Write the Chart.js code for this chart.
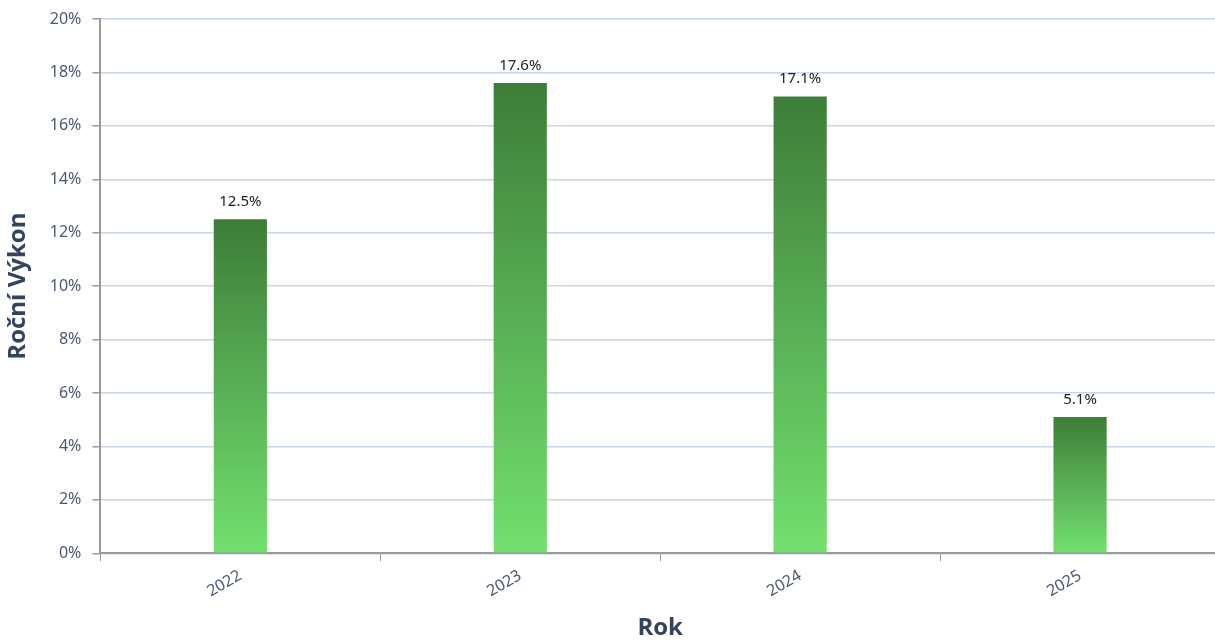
<!DOCTYPE html>
<html>
<head>
<meta charset="utf-8">
<script src="https://cdn.jsdelivr.net/npm/chart.js@4/dist/chart.umd.min.js"></script>
<style>
  html, body { margin: 0; padding: 0; background: #fff; overflow: hidden; }
  #wrap { width: 1220px; height: 643px; }
</style>
</head>
<body>
<div id="wrap"><canvas id="myChart"></canvas></div>
<script>
const years = ['2022', '2023', '2024', '2025'];
const returns = [12.5, 17.6, 17.1, 5.1];
const returnLabels = ['12.5%', '17.6%', '17.1%', '5.1%'];

const titleColor = '#34435e';
const tickColor = '#4b5874';

// gradient per bar, dark on top and light at the base
function barGradient(ctx) {
    const chart = ctx.chart;
    const area = chart.chartArea;
    if (!area) return '#5cb85a';
    const yScale = chart.scales.y;
    const top = yScale.getPixelForValue(ctx.raw);
    const bottom = yScale.getPixelForValue(0);
    const g = chart.ctx.createLinearGradient(0, top, 0, bottom);
    g.addColorStop(0, '#3d7d39');
    g.addColorStop(0.45, '#56aa52');
    g.addColorStop(1, '#72e06e');
    return g;
}

const valueLabels = {
    id: 'valueLabels',
    afterDatasetsDraw(chart) {
        const ctx = chart.ctx;
        const meta = chart.getDatasetMeta(0);
        ctx.save();
        ctx.font = '15px "Noto Sans", sans-serif';
        ctx.fillStyle = '#222';
        ctx.textAlign = 'center';
        ctx.textBaseline = 'bottom';
        meta.data.forEach((bar, i) => {
            ctx.fillText(returnLabels[i], bar.x, bar.y - 10);
        });
        ctx.restore();
    }
};

function createChart() {
    const ctx = document.getElementById('myChart').getContext('2d');
    const myChart = new Chart(ctx, {
        type: 'bar',
        data: {
            labels: years,
            datasets: [{
                label: 'Roční Výkon',
                data: returns,
                backgroundColor: barGradient,
                borderWidth: 0,
                barPercentage: 0.19,
                categoryPercentage: 1.0
            }]
        },
        options: {
            responsive: true,
            maintainAspectRatio: false,
            animation: false,
            layout: { padding: { top: 16, left: 4, right: 0, bottom: 0 } },
            plugins: {
                legend: { display: false },
                tooltip: { enabled: false }
            },
            scales: {
                x: {
                    grid: {
                        display: true,
                        drawOnChartArea: false,
                        offset: true,
                        tickColor: '#9a9a9a',
                        tickLength: 8,
                        lineWidth: 1
                    },
                    border: { color: '#9a9a9a', width: 2 },
                    ticks: {
                        color: tickColor,
                        font: { family: '"Noto Sans", sans-serif', size: 16 },
                        minRotation: 30,
                        maxRotation: 30,
                        padding: 5
                    },
                    title: {
                        display: true,
                        text: 'Rok',
                        color: titleColor,
                        font: { family: '"Open Sans", sans-serif', size: 24, weight: 'bold' },
                        padding: { top: 8, bottom: 0 }
                    }
                },
                y: {
                    min: 0,
                    max: 20,
                    grid: {
                        color: '#c9d6ea',
                        lineWidth: 1.5,
                        tickColor: '#9a9a9a',
                        tickLength: 8
                    },
                    border: { color: '#9a9a9a', width: 2 },
                    ticks: {
                        stepSize: 2,
                        color: tickColor,
                        font: { family: '"Noto Sans", sans-serif', size: 16, lineHeight: 1.0 },
                        padding: 11,
                        callback: v => v + '%'
                    },
                    title: {
                        display: true,
                        text: 'Roční Výkon',
                        color: titleColor,
                        font: { family: '"Open Sans", sans-serif', size: 24, weight: 'bold' },
                        padding: { top: 0, bottom: 6 }
                    }
                }
            }
        },
        plugins: [valueLabels]
    });
    return myChart;
}

createChart();
</script>
</body>
</html>
